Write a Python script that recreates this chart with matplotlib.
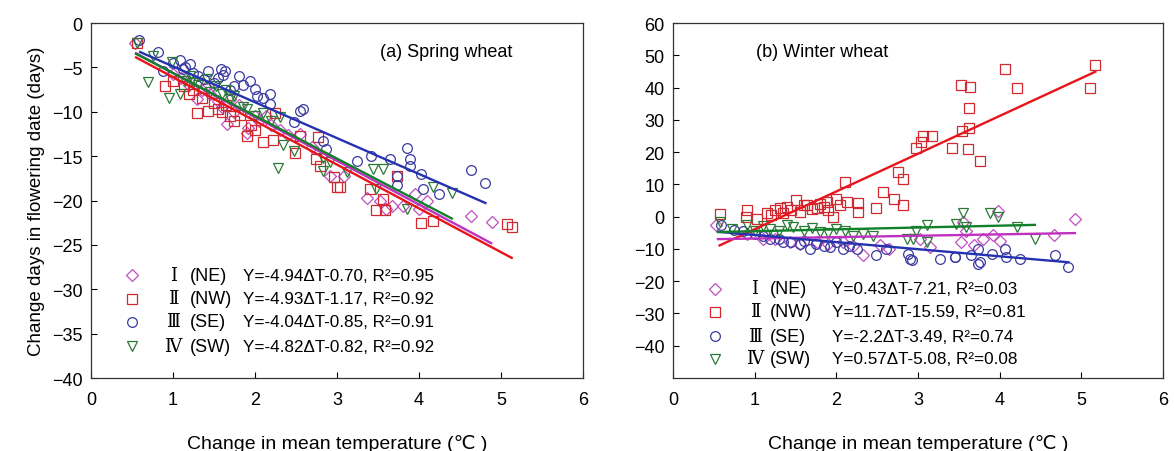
import matplotlib
matplotlib.use('Agg')
import matplotlib.pyplot as plt
import numpy as np

plt.rcParams['font.family'] = ['Liberation Sans', 'DejaVu Sans']

# ---- data ----
regions = ['Ⅰ', 'Ⅱ', 'Ⅲ', 'Ⅳ']
zones = ['(NE)', '(NW)', '(SE)', '(SW)']

# (a) spring wheat
springX = {
    'NE': [0.54, 1.0, 1.1, 1.2, 1.29, 1.35, 1.45, 1.55, 1.6, 1.66, 1.75, 1.8, 1.9, 1.92, 2.0, 2.05, 2.14,
           2.2, 2.3, 2.55, 2.7, 2.91, 3.08, 3.36, 3.52, 3.6, 3.67, 3.81, 3.95, 4.0, 4.1, 4.63, 4.89,
           1.4, 1.7, 2.4],
    'NW': [0.56, 0.90, 1.0, 1.13, 1.2, 1.29, 1.35, 1.43, 1.5, 1.55, 1.6, 1.7, 1.75, 1.82, 1.9, 1.95, 2.0,
           2.1, 2.22, 2.24, 2.49, 2.55, 2.77, 2.75, 2.79, 2.96, 3.0, 3.04, 3.40, 3.56, 3.58, 3.48, 3.73,
           4.03, 4.17, 5.07, 5.13, 1.25, 1.65],
    'SE': [0.58, 0.82, 0.88, 1.0, 1.09, 1.15, 1.21, 1.25, 1.3, 1.38, 1.43, 1.5, 1.59, 1.63, 1.61, 1.7,
           1.74, 1.8, 1.94, 2.0, 2.02, 2.1, 2.18, 2.18, 2.47, 2.55, 2.59, 2.83, 2.87, 3.24, 3.42, 3.65,
           3.85, 3.89, 3.89, 3.73, 3.73, 4.03, 4.05, 4.24, 4.64, 4.81, 1.12, 1.55, 1.85],
    'SW': [0.56, 0.70, 0.76, 0.95, 0.99, 1.09, 1.15, 1.21, 1.3, 1.41, 1.45, 1.53, 1.6, 1.70, 1.75, 1.85,
           1.90, 2.0, 2.10, 2.2, 2.28, 2.30, 2.34, 2.47, 2.83, 2.83, 2.91, 3.12, 3.44, 3.48, 3.56, 3.85,
           4.17, 4.40, 1.25, 1.65],
}
springY = {
    'NE': [-2.2, -5.8, -6.2, -7.0, -8.6, -7.5, -8.0, -8.8, -9.5, -11.4, -10.0, -9.2, -12.4, -11.8, -10.5,
           -11.0, -10.5, -11.5, -12.0, -12.5, -14.0, -17.2, -17.2, -19.7, -20.0, -21.0, -20.6, -20.6,
           -19.3, -21.0, -20.0, -21.8, -22.4, -7.2, -8.6, -12.6],
    'NW': [-2.2, -7.1, -6.5, -7.1, -8.0, -10.1, -8.5, -9.9, -9.0, -9.7, -10.0, -10.5, -11.0, -10.4, -12.7,
           -11.5, -12.0, -13.4, -13.2, -10.1, -14.6, -12.7, -12.9, -15.3, -16.1, -17.4, -18.5, -18.5,
           -18.7, -19.8, -21.1, -21.1, -17.2, -22.5, -22.3, -22.7, -23.0, -7.6, -9.2],
    'SE': [-1.9, -3.3, -5.4, -4.5, -4.2, -5.0, -4.6, -5.6, -6.0, -6.3, -5.4, -6.8, -5.2, -5.4, -5.9, -7.5,
           -7.1, -6.0, -6.5, -7.4, -8.2, -8.5, -8.0, -9.1, -11.2, -9.9, -9.7, -13.3, -14.2, -15.5, -15.0,
           -15.3, -14.1, -15.3, -16.1, -17.2, -18.3, -17.0, -18.7, -19.3, -16.6, -18.0, -5.2, -6.2, -7.0],
    'SW': [-2.2, -6.7, -3.7, -8.4, -4.4, -8.0, -6.5, -6.0, -7.0, -6.3, -7.8, -7.1, -8.0, -8.6, -8.2, -9.5,
           -9.7, -10.5, -10.1, -11.0, -16.3, -10.6, -13.8, -14.4, -16.7, -15.2, -15.7, -16.8, -16.5,
           -18.7, -16.5, -21.0, -18.5, -19.1, -6.8, -7.5],
}
springSlope = {'NE': -4.94, 'NW': -4.93, 'SE': -4.04, 'SW': -4.82}
springIntercept = {'NE': -0.70, 'NW': -1.17, 'SE': -0.85, 'SW': -0.82}
springFitRange = {'NE': (0.55, 4.88), 'NW': (0.55, 5.13), 'SE': (0.6, 4.81), 'SW': (0.55, 4.4)}
springEq = ['Y=-4.94ΔT-0.70, R²=0.95', 'Y=-4.93ΔT-1.17, R²=0.92',
            'Y=-4.04ΔT-0.85, R²=0.91', 'Y=-4.82ΔT-0.82, R²=0.92']

# (b) winter wheat
winterX = {
    'NE': [0.53, 0.9, 1.1, 1.25, 1.43, 1.55, 1.76, 1.9, 2.08, 2.2, 2.33, 2.53, 2.65, 3.02, 3.14, 3.53,
           3.55, 3.59, 3.68, 3.80, 3.92, 3.98, 4.0, 4.67, 4.92],
    'NW': [0.57, 0.89, 0.90, 1.03, 1.15, 1.2, 1.25, 1.31, 1.35, 1.4, 1.45, 1.51, 1.55, 1.6, 1.64, 1.7,
           1.76, 1.8, 1.85, 1.88, 1.9, 1.96, 2.0, 2.05, 2.11, 2.13, 2.27, 2.27, 2.49, 2.57, 2.70, 2.76,
           2.82, 2.82, 2.98, 3.04, 3.06, 3.17, 3.42, 3.53, 3.54, 3.61, 3.62, 3.62, 3.64, 3.76, 4.06,
           4.21, 5.11, 5.17],
    'SE': [0.59, 0.75, 0.86, 1.0, 1.1, 1.19, 1.3, 1.35, 1.45, 1.55, 1.6, 1.68, 1.75, 1.85, 1.92, 2.0,
           2.08, 2.15, 2.25, 2.49, 2.61, 2.88, 2.90, 2.92, 3.27, 3.45, 3.45, 3.65, 3.73, 3.73, 3.76,
           3.90, 4.06, 4.08, 4.25, 4.68, 4.84],
    'SW': [0.57, 0.72, 0.90, 1.0, 1.1, 1.19, 1.3, 1.4, 1.47, 1.6, 1.7, 1.80, 1.9, 2.0, 2.1, 2.2, 2.33,
           2.45, 2.86, 2.94, 2.98, 3.11, 3.11, 3.47, 3.55, 3.59, 3.88, 3.98, 4.21, 4.43],
}
winterY = {
    'NE': [-2.7, -5.5, -6.8, -7.0, -7.9, -8.5, -7.9, -8.5, -7.9, -9.0, -12.0, -8.9, -9.9, -6.9, -9.4,
           -7.9, -1.7, -4.3, -8.9, -6.9, -5.8, 1.8, -7.4, -5.8, -0.7],
    'NW': [0.7, 0.0, 2.1, -0.6, 1.1, 0.5, 2.0, 2.6, 1.0, 3.0, 2.0, 5.2, 1.5, 3.5, 3.7, 2.5, 2.6, 4.0,
           3.0, 4.6, 2.0, 0.0, 5.6, 3.5, 10.8, 4.6, 4.1, 1.3, 2.6, 7.7, 5.6, 13.7, 3.7, 11.6, 21.4, 23.2,
           25.1, 25.1, 21.4, 40.9, 26.4, 20.9, 33.6, 27.5, 40.2, 17.3, 45.6, 40.0, 40.0, 47.1],
    'SE': [-2.7, -4.0, -4.3, -5.5, -6.0, -6.9, -7.0, -7.9, -8.0, -8.5, -7.5, -9.9, -8.5, -9.0, -9.4,
           -8.0, -9.9, -9.0, -10.0, -12.0, -9.9, -11.5, -13.0, -13.4, -13.1, -12.5, -12.6, -12.0, -9.9,
           -14.6, -14.1, -11.5, -9.9, -12.5, -13.0, -12.0, -15.6],
    'SW': [-1.7, -3.8, -2.7, -4.5, -3.0, -3.8, -4.5, -2.5, -3.3, -4.3, -3.5, -4.8, -5.0, -3.8, -4.5,
           -6.0, -5.4, -5.9, -6.9, -6.9, -4.4, -2.6, -7.9, -2.3, 1.1, -3.3, 1.1, -0.2, -3.3, -6.9],
}
winterSlope = {'NE': 0.43, 'NW': 11.7, 'SE': -2.2, 'SW': 0.57}
winterIntercept = {'NE': -7.21, 'NW': -15.59, 'SE': -3.49, 'SW': -5.08}
winterFitRange = {'NE': (0.55, 4.92), 'NW': (0.57, 5.17), 'SE': (0.55, 4.84), 'SW': (0.55, 4.43)}
winterEq = ['Y=0.43ΔT-7.21, R²=0.03', 'Y=11.7ΔT-15.59, R²=0.81',
            'Y=-2.2ΔT-3.49, R²=0.74', 'Y=0.57ΔT-5.08, R²=0.08']

# ---- styles ----
keys = ['NE', 'NW', 'SE', 'SW']
markers = {'NE': 'D', 'NW': 's', 'SE': 'o', 'SW': 'v'}
msizes = {'NE': 6.0, 'NW': 6.8, 'SE': 7.0, 'SW': 7.2}
mcolors = {'NE': '#c050c0', 'NW': '#d02a30', 'SE': '#3a3aa0', 'SW': '#2a7a35'}
lcolors = {'NE': '#c030c0', 'NW': '#e8141c', 'SE': '#2432b0', 'SW': '#10802a'}
lineOrder = ['NW', 'NE', 'SE', 'SW']


def drawPanel(ax, xs, ys, slope, icpt, fitRange, eqs, ylim, yticks, title, titlePos, legPos):
    for k in keys:
        ax.plot(xs[k], ys[k], linestyle='none', marker=markers[k], ms=msizes[k],
                mfc='none', mec=mcolors[k], mew=0.9)
    for k in lineOrder:
        fx = np.array(fitRange[k])
        ax.plot(fx, slope[k] * fx + icpt[k], color=lcolors[k], lw=1.7)

    ax.set_xlim(0, 6)
    ax.set_ylim(*ylim)
    ax.set_xticks(range(0, 7))
    ax.set_yticks(yticks)
    ax.tick_params(direction='in', length=4, labelsize=13, width=0.8)
    ax.tick_params(axis='x', pad=9)
    ax.tick_params(axis='y', pad=6)
    for s in ax.spines.values():
        s.set_linewidth(0.9)
        s.set_color('#333333')
    ax.set_xlabel('Change in mean temperature (℃ )', fontsize=14, labelpad=19)
    ax.text(titlePos[0], titlePos[1], title, transform=ax.transAxes, fontsize=13,
            ha='left', va='center')

    # hand-made legend
    mx, nx, zx, ex, rows = legPos
    for i, k in enumerate(keys):
        ax.plot([mx], [rows[i]], transform=ax.transAxes, linestyle='none', marker=markers[k],
                ms=msizes[k], mfc='none', mec=mcolors[k], mew=0.9, clip_on=False)
        ax.text(nx, rows[i], regions[i], transform=ax.transAxes, fontsize=13, ha='center',
                va='center', family=['Liberation Serif', 'DejaVu Serif', 'Noto Sans CJK SC'])
        ax.text(zx, rows[i], zones[i], transform=ax.transAxes, fontsize=13, ha='left', va='center')
        ax.text(ex, rows[i], eqs[i], transform=ax.transAxes, fontsize=12.3, ha='left', va='center')


fig = plt.figure(figsize=(11.74, 4.52), dpi=100)
axA = fig.add_axes([0.0775, 0.1615, 0.4191, 0.7854])
axB = fig.add_axes([0.5733, 0.1615, 0.4174, 0.7854])

drawPanel(axA, springX, springY, springSlope, springIntercept, springFitRange, springEq,
          (-40, 0), range(-40, 1, 5), '(a) Spring wheat', (0.587, 0.921),
          (0.083, 0.167, 0.201, 0.309, [0.290, 0.223, 0.158, 0.090]))
drawPanel(axB, winterX, winterY, winterSlope, winterIntercept, winterFitRange, winterEq,
          (-50, 60), range(-40, 61, 10), '(b) Winter wheat', (0.169, 0.921),
          (0.086, 0.167, 0.198, 0.324, [0.251, 0.186, 0.118, 0.054]))

axA.set_ylabel('Change days in flowering date (days)', fontsize=13.5, labelpad=5)

fig.savefig('out.png', dpi=100)
